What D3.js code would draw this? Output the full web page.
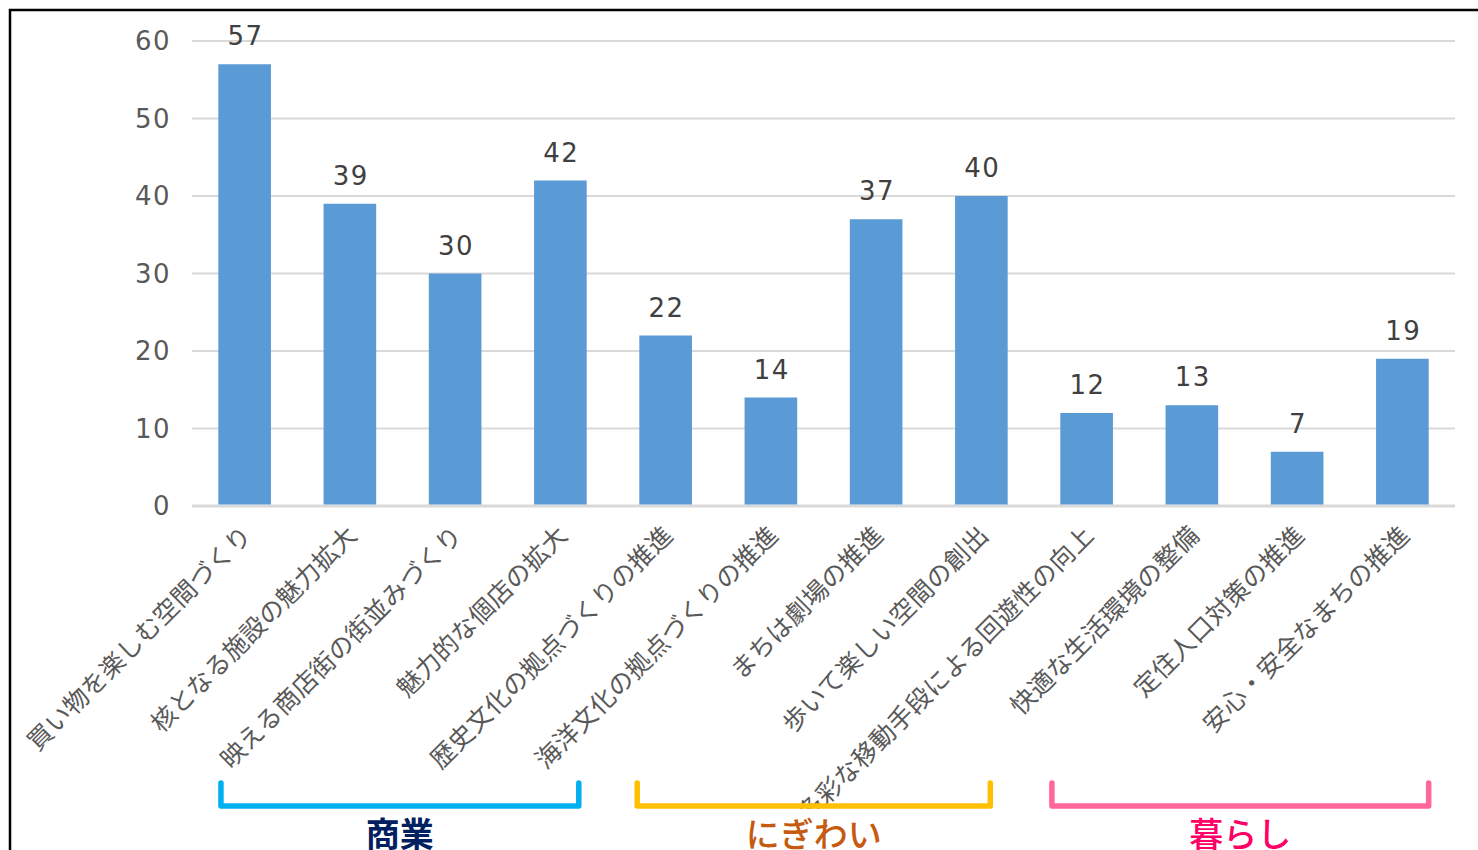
<!DOCTYPE html>
<html><head><meta charset="utf-8">
<script src="https://cdn.jsdelivr.net/npm/d3@7"></script>
<style>body{margin:0;background:#fff;overflow:hidden}svg{display:block}</style>
</head><body>
<svg id="c" width="1478" height="850"></svg>
<script>
const categories = ["買い物を楽しむ空間づくり","核となる施設の魅力拡大","映える商店街の街並みづくり","魅力的な個店の拡大","歴史文化の拠点づくりの推進","海洋文化の拠点づくりの推進","まちは劇場の推進","歩いて楽しい空間の創出","多彩な移動手段による回遊性の向上","快適な生活環境の整備","定住人口対策の推進","安心・安全なまちの推進"];
const values = [57,39,30,42,22,14,37,40,12,13,7,19];
const yTicks = [0,10,20,30,40,50,60];
const groupNames = ["商業","にぎわい","暮らし"];
const groupStart = [0,4,8];
const groupEnd = [3,7,11];
const groupColors = ["#00B0F0","#FFC000","#FF6699"];
const groupTextColors = ["#002060","#C55A11","#FF0066"];

const svg = d3.select("#c");
const font = "'Noto Sans CJK JP','Noto Sans',sans-serif";
const numFont = "'DejaVu Sans','Noto Sans',sans-serif";
const x = d3.scaleBand().domain(d3.range(categories.length)).range([192,1455]).paddingInner(0.5).paddingOuter(0.25);
const y = d3.scaleLinear().domain([0,60]).range([506,41]);

// frame
svg.append("path").attr("d","M10,850 V10 H1478").attr("fill","none").attr("stroke","#000").attr("stroke-width",2.5);

// grid
svg.append("g").selectAll("line").data(yTicks).join("line")
  .attr("x1",192).attr("x2",1455).attr("y1",d=>y(d)).attr("y2",d=>y(d))
  .attr("stroke","#D9D9D9").attr("stroke-width",d=>d===0?3:2);
// y labels
svg.append("g").selectAll("text").data(yTicks).join("text")
  .attr("x",171).attr("y",d=>y(d)).attr("dy","0.36em").attr("text-anchor","end")
  .attr("font-family",numFont).attr("font-size",26).attr("letter-spacing",1.5).attr("fill","#595959").text(d=>d);

// bars
svg.append("g").selectAll("rect").data(values).join("rect")
  .attr("x",(d,i)=>x(i)).attr("width",x.bandwidth()).attr("y",d=>y(d)).attr("height",d=>y(0)-y(d)-1.5)
  .attr("fill","#5B9BD5");
// value labels
svg.append("g").selectAll("text").data(values).join("text")
  .attr("x",(d,i)=>x(i)+x.bandwidth()/2+1).attr("y",d=>y(d)-19).attr("text-anchor","middle")
  .attr("font-family",numFont).attr("font-size",26).attr("letter-spacing",1.5).attr("fill","#404040").text(d=>d);

// category labels
svg.append("g").selectAll("text").data(categories).join("text")
  .attr("transform",(d,i)=>`translate(${x(i)+x.bandwidth()/2-4},${524}) rotate(-45)`)
  .attr("text-anchor","end").attr("dy","0.72em")
  .attr("font-family",font).attr("font-size",25).attr("letter-spacing",0.4).attr("fill","#595959").text(d=>d);

// group brackets
const bw = x.bandwidth();
const startF = [0.05,-0.04,-0.16], endF = [0.85,0.67,1.0];
groupNames.forEach((g,k)=>{
  const x0 = x(groupStart[k]) + bw*startF[k], x1 = x(groupEnd[k]) + bw*endF[k];
  const cx = (x0+x1)/2;
  const tw = g.length*34+20;
  svg.append("rect").attr("x",cx-tw/2).attr("y",809).attr("width",tw).attr("height",41).attr("fill","#fff");
  svg.append("path").attr("d",`M${x0},783 V806 H${x1} V783`).attr("fill","none")
    .attr("stroke",groupColors[k]).attr("stroke-width",5.5).attr("stroke-linejoin","round").attr("stroke-linecap","round");
  svg.append("text").attr("x",cx).attr("y",847).attr("text-anchor","middle")
    .attr("font-family",font).attr("font-size",34).attr("font-weight",k===0?700:500)
    .attr("fill",groupTextColors[k]).text(g);
});
</script>
</body></html>
